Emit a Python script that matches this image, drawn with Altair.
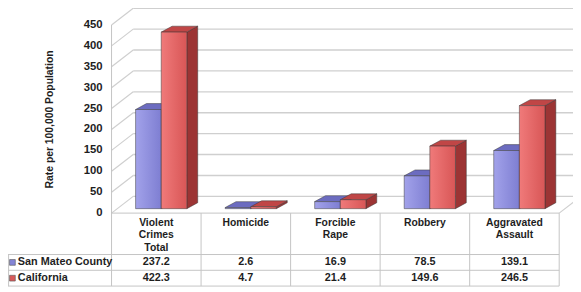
import altair as alt
import pandas as pd

# ---------------- data ----------------
categories = ["Violent\nCrimes\nTotal", "Homicide", "Forcible\nRape", "Robbery", "Aggravated\nAssault"]
series_names = ["San Mateo County", "California"]
san_mateo = [237.2, 2.6, 16.9, 78.5, 139.1]
california = [422.3, 4.7, 21.4, 149.6, 246.5]
y_ticks = [0, 50, 100, 150, 200, 250, 300, 350, 400, 450]
y_title = "Rate per 100,000 Population"

# ---------------- layout (page pixels) ----------------
W, H = 573, 284
X0_PAGE = 113.0      # front-left wall edge
COL_PX = 90.8        # table column width
Y0_PAGE = 214.0      # value 0 on the front plane
PX_PER_UNIT = 0.424

U_MIN = (8 - X0_PAGE) / COL_PX
U_MAX = U_MIN + W / COL_PX
V_MAX = (Y0_PAGE - 8) / PX_PER_UNIT
V_MIN = V_MAX - H / PX_PER_UNIT


def u_px(p):
    return (p - X0_PAGE) / COL_PX


def v_py(p):
    return (Y0_PAGE - p) / PX_PER_UNIT


def du(px):
    return px / COL_PX


def dv(px):
    return px / PX_PER_UNIT


FONT = "Liberation Sans"
GRID = "#cfcfcf"
TABLE = "#c4c4c4"
TXT = "#1e1e1e"

xs = alt.Scale(domain=[U_MIN, U_MAX], zero=False, nice=False)
ys = alt.Scale(domain=[V_MIN, V_MAX], zero=False, nice=False)


def X(f):
    return alt.X(f, type="quantitative", scale=xs, axis=None, stack=None)


def Y(f):
    return alt.Y(f, type="quantitative", scale=ys, axis=None, stack=None)


WALL_DX, WALL_DY = du(22), dv(17)

# ---------------- wall & floor ----------------
grid_df = pd.DataFrame({"v": y_ticks})
grid_df["xb"] = WALL_DX
grid_df["xe"] = U_MAX
grid_df["x0"] = 0.0
grid_df["vb"] = grid_df["v"] + WALL_DY
grid_df["xl"] = u_px(104)
grid_df["lab"] = [str(t) for t in y_ticks]

back_grid = alt.Chart(grid_df).mark_rule(color=GRID, strokeWidth=1.4).encode(
    x=X("xb"), x2="xe", y=Y("vb"))

diag = alt.Chart(grid_df).mark_rule(color=GRID, strokeWidth=1.2).encode(
    x=X("x0"), x2="xb", y=Y("v"), y2="vb")

tick_labels = alt.Chart(grid_df).mark_text(
    font=FONT, fontSize=11.5, fontWeight="bold", color=TXT, align="right",
    baseline="middle").encode(x=X("xl"), y=Y("v"), text="lab:N")

title_df = pd.DataFrame({"x": [u_px(51)], "y": [v_py(119)], "t": [y_title]})
y_title_text = alt.Chart(title_df).mark_text(
    font=FONT, fontSize=10.5, fontWeight="bold", color=TXT, align="center",
    baseline="middle", angle=270).encode(x=X("x"), y=Y("y"), text="t:N")

n = len(categories)
lines = pd.DataFrame([
    {"x": 0.0, "x2": 0.0, "y": max(y_ticks), "y2": v_py(288)},
    {"x": 0.0, "x2": float(n), "y": 0.0, "y2": 0.0},
    {"x": U_MIN, "x2": float(n), "y": v_py(256), "y2": v_py(256)},
    {"x": U_MIN, "x2": float(n), "y": v_py(272), "y2": v_py(272)},
    {"x": U_MIN, "x2": float(n), "y": v_py(288), "y2": v_py(288)},
    {"x": U_MIN + du(0.6), "x2": U_MIN + du(0.6), "y": v_py(256), "y2": v_py(288)},
] + [
    {"x": float(k), "x2": float(k), "y": 0.0, "y2": v_py(288)} for k in range(1, n + 1)
])
table_lines = alt.Chart(lines).mark_rule(color=TABLE, strokeWidth=1).encode(
    x=X("x"), x2="x2", y=Y("y"), y2="y2")

floor_edge = alt.Chart(pd.DataFrame({"x": [float(n)], "x2": [n + WALL_DX],
                                     "y": [0.0], "y2": [WALL_DY]})).mark_rule(
    color=GRID, strokeWidth=1.2, clip=True).encode(x=X("x"), x2="x2", y=Y("y"), y2="y2")

# ---------------- 3D bars ----------------
BAR_W = du(26)
PAIR_SHIFT = du(5)
BAR_DX = du(11)
BAR_DY = dv(6)
BASE = dv(4.5)

styles = [
    {"front": ["#a2a2ea", "#7e7ed2"], "top": "#6c6cc0", "side": "#54549e"},
    {"front": ["#f07a7a", "#d85656"], "top": "#c04646", "side": "#9c3434"},
]

bar_layers = []
for s, vals in enumerate([san_mateo, california]):
    fr, tp, sd = [], [], []
    for i, val in enumerate(vals):
        xl = i + 0.5 + PAIR_SHIFT - BAR_W + s * BAR_W
        xr = xl + BAR_W
        top = BASE + val
        key = f"{s}-{i}"
        fr.append({"xl": xl, "xr": xr, "b": BASE, "t": top})
        tp.append({"k": key, "y": top, "x": xl, "x2": xr})
        tp.append({"k": key, "y": top + BAR_DY, "x": xl + BAR_DX, "x2": xr + BAR_DX})
        sd.append({"k": key, "x": xr, "y": top, "y2": BASE})
        sd.append({"k": key, "x": xr + BAR_DX, "y": top + BAR_DY, "y2": BASE + BAR_DY})
    st = styles[s]
    side = alt.Chart(pd.DataFrame(sd)).mark_area(
        orient="vertical", color=st["side"], stroke="#3a3a3a", strokeWidth=0.5,
        opacity=1).encode(x=X("x"), y=Y("y"), y2="y2", detail="k:N")
    topf = alt.Chart(pd.DataFrame(tp)).mark_area(
        orient="horizontal", color=st["top"], stroke="#3a3a3a", strokeWidth=0.5,
        opacity=1).encode(y=Y("y"), x=X("x"), x2="x2", detail="k:N")
    grad = alt.LinearGradient(gradient="linear",
                              stops=[alt.GradientStop(color=st["front"][0], offset=0),
                                     alt.GradientStop(color=st["front"][1], offset=1)],
                              x1=0, x2=1, y1=0, y2=0)
    front = alt.Chart(pd.DataFrame(fr)).mark_rect(
        color=grad, stroke="#3a3a3a", strokeWidth=0.5).encode(
        x=X("xl"), x2="xr", y=Y("b"), y2="t")
    bar_layers.append((side, topf, front))

# ---------------- data table ----------------
hdr = pd.DataFrame({"x": [i + 0.5 for i in range(n)], "y": [v_py(219)] * n, "t": categories})
header_text = alt.Chart(hdr).mark_text(
    font=FONT, fontSize=10.5, fontWeight="bold", color=TXT, baseline="top",
    lineBreak="\n", lineHeight=12.5, align="center").encode(x=X("x"), y=Y("y"), text="t:N")

row_y = [v_py(264), v_py(280)]
vals_rows = []
for s, vals in enumerate([san_mateo, california]):
    for i, val in enumerate(vals):
        vals_rows.append({"x": i + 0.5, "y": row_y[s], "t": f"{val:.1f}"})
value_text = alt.Chart(pd.DataFrame(vals_rows)).mark_text(
    font=FONT, fontSize=11, fontWeight="bold", color=TXT, baseline="middle",
    align="center").encode(x=X("x"), y=Y("y"), text="t:N")

lab = pd.DataFrame({"x": [u_px(18)] * 2, "y": row_y, "t": series_names})
label_text = alt.Chart(lab).mark_text(
    font=FONT, fontSize=11, fontWeight="bold", color=TXT, baseline="middle",
    align="left").encode(x=X("x"), y=Y("y"), text="t:N")

sq = pd.DataFrame({"x": [u_px(12.5)] * 2, "y": row_y, "c": ["#8585d6", "#d85a5a"]})
swatches = alt.Chart(sq).mark_square(size=34, opacity=1, stroke="#555555",
                                     strokeWidth=0.6).encode(
    x=X("x"), y=Y("y"), fill=alt.Fill("c:N", scale=None))

layers = [back_grid, diag, floor_edge, table_lines, tick_labels, y_title_text]
for s in range(2):
    layers += list(bar_layers[s])
layers += [header_text, value_text, label_text, swatches]

chart = alt.layer(*layers).properties(
    width=W, height=H, padding=0, autosize=alt.AutoSizeParams(type="none"),
    background="white"
).configure_view(stroke=None)

chart.save("out.html", embed_options={"renderer": "svg", "actions": False})
